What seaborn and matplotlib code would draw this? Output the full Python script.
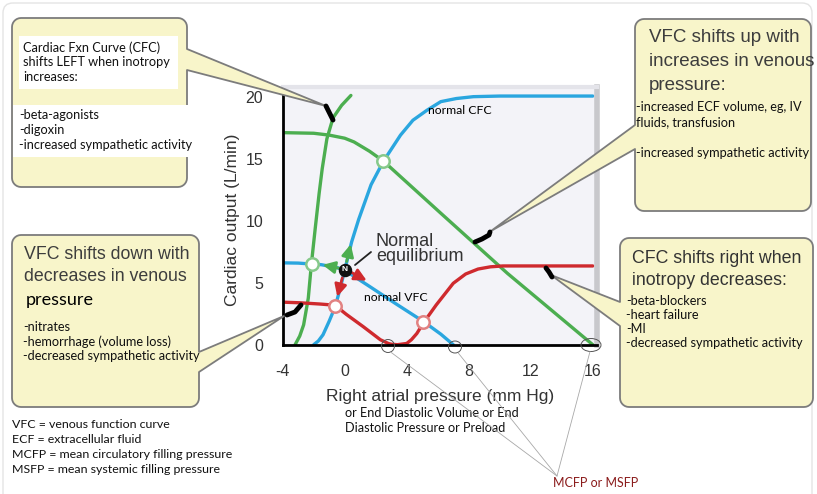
import numpy as np
import matplotlib
matplotlib.use('Agg')
import matplotlib.pyplot as plt
from matplotlib.patches import Polygon, Rectangle, Ellipse, FancyBboxPatch
import seaborn as sns

# Curves (x = right atrial pressure, y = cardiac output)
cfc_normal_x = [-2.0, -1.7, -1.4, -1.0, -0.6, -0.2, 0.0, 0.45, 0.9, 1.7, 2.5, 3.6, 4.4, 5.3, 6.2, 7.2, 8.3, 10.0, 16.0]
cfc_normal_y = [0.0, 0.3, 0.8, 1.9, 3.1, 5.0, 6.0, 8.3, 10.1, 12.9, 14.8, 16.9, 18.1, 18.9, 19.6, 19.85, 20.0, 20.05, 20.05]

vfc_normal_x = [-4.0, -3.0, -2.1, -1.5, -0.95, -0.45, 0.0, 1.6, 3.3, 5.1, 6.2, 7.0]
vfc_normal_y = [6.6, 6.58, 6.5, 6.45, 6.32, 6.2, 6.0, 4.7, 3.3, 1.85, 0.85, 0.0]

vfc_up_x = [-4.0, -2.0, -1.0, 0.0, 0.6, 1.6, 2.5, 6.2, 10.5, 16.0]
vfc_up_y = [17.1, 17.05, 16.9, 16.65, 16.35, 15.6, 14.8, 10.6, 5.75, 0.0]

cfc_left_x = [-3.2, -2.9, -2.65, -2.35, -2.15, -1.9, -1.65, -1.45, -1.15, -0.75, -0.2, 0.4]
cfc_left_y = [0.0, 0.7, 1.6, 3.75, 6.5, 9.4, 12.2, 14.2, 16.6, 18.3, 19.3, 20.1]

vfc_down_x = [-4.0, -2.9, -1.6, -1.0, -0.65, -0.3, 0.1, 1.2, 2.3, 2.9]
vfc_down_y = [3.43, 3.38, 3.28, 3.22, 3.15, 2.85, 2.45, 1.45, 0.4, 0.05]

cfc_right_x = [2.9, 3.4, 4.0, 4.3, 4.65, 5.1, 5.9, 7.0, 7.8, 8.6, 9.4, 10.2, 16.0]
cfc_right_y = [0.05, 0.0, 0.1, 0.4, 0.9, 1.8, 3.2, 4.95, 5.7, 6.1, 6.28, 6.35, 6.35]

# equilibrium points
green_pts_x = [-2.13, 2.49]
green_pts_y = [6.5, 14.8]
red_pts_x = [-0.63, 5.07]
red_pts_y = [3.15, 1.81]
normal_x, normal_y = 0.02, 6.05

x_ticks = [-4, 0, 4, 8, 12, 16]
y_ticks = [0, 5, 10, 15, 20]

BLUE = '#2aa6df'
GREEN = '#4cae50'
RED = '#cf2a2e'
BOX = '#f8f5ca'
TITLE = '#3d3d3d'

sns.set_style('white')
plt.rcParams['font.family'] = ['Liberation Sans', 'DejaVu Sans']
plt.rcParams['axes.unicode_minus'] = False

W, H = 817, 494
fig = plt.figure(figsize=(W / 100, H / 100), dpi=100)
ax = fig.add_axes([282.7 / W, 1 - 344.7 / H, 314.7 / W, 257.7 / H])
ax.set_facecolor('#f3f3f8')

# curves
for xs, ys, c in [(cfc_normal_x, cfc_normal_y, BLUE), (vfc_normal_x, vfc_normal_y, BLUE),
                  (vfc_up_x, vfc_up_y, GREEN), (cfc_left_x, cfc_left_y, GREEN),
                  (vfc_down_x, vfc_down_y, RED), (cfc_right_x, cfc_right_y, RED)]:
    sns.lineplot(x=xs, y=ys, ax=ax, color=c, lw=2.4, sort=False, estimator=None)

sns.scatterplot(x=green_pts_x, y=green_pts_y, ax=ax, s=80, color='white',
                edgecolor='#86c98a', linewidth=1.8, zorder=6)
sns.scatterplot(x=red_pts_x, y=red_pts_y, ax=ax, s=80, color='white',
                edgecolor='#e28282', linewidth=1.8, zorder=6)

# arrows leaving the normal equilibrium
arrows = [((-0.3, 6.15), (-1.42, 6.44), GREEN), ((0.12, 6.7), (0.39, 8.1), GREEN),
          ((-0.15, 5.4), (-0.48, 3.87), RED), ((0.4, 5.85), (1.42, 5.17), RED)]
for tail, tip, c in arrows:
    ax.annotate('', xy=tip, xytext=tail, zorder=7,
                arrowprops=dict(arrowstyle='-|>,head_length=0.6,head_width=0.3', color=c,
                                lw=2, shrinkA=0, shrinkB=0, mutation_scale=12))

ax.scatter([normal_x], [normal_y], s=75, color='#111111', zorder=8)
ax.text(normal_x, normal_y, 'N', color='white', fontsize=6, fontweight='bold',
        ha='center', va='center', zorder=9)

ax.set_xlim(-4, 16.3)
ax.set_ylim(0, 20.78)
ax.set_xticks(x_ticks)
ax.set_yticks(y_ticks)
ax.tick_params(direction='out', length=9, width=2, color='black', pad=5,
               labelsize=11.5, labelcolor='#333333')
ax.set_xlabel('Right atrial pressure (mm Hg)', fontsize=12.5, color='#333333', labelpad=7)
ax.set_ylabel('Cardiac output (L/min)', fontsize=12.5, color='#333333')
ax.yaxis.set_label_coords(-0.135, 0.484)
for s in ['left', 'bottom']:
    ax.spines[s].set_color('black')
    ax.spines[s].set_linewidth(2)
ax.spines['top'].set_color('#e4e4ea')
ax.spines['top'].set_linewidth(3)
ax.spines['right'].set_color('#c8c8cc')
ax.spines['right'].set_linewidth(4)

# overlay in pixel coordinates for callouts and notes
ov = fig.add_axes([0, 0, 1, 1], zorder=5)
ov.set_xlim(0, W)
ov.set_ylim(H, 0)
ov.axis('off')
ov.patch.set_alpha(0)

ov.add_patch(FancyBboxPatch((3, 3), 809, 600, boxstyle='round,pad=0,rounding_size=10',
                            fc='none', ec='#e4e4e4', lw=1))


def callout(x0, y0, x1, y1, side, b0, b1, tip, r=9):
    pts = []

    def arc(cx, cy, a0, a1):
        for a in np.radians(np.linspace(a0, a1, 8)):
            pts.append((cx + r * np.cos(a), cy + r * np.sin(a)))
    arc(x0 + r, y0 + r, 180, 270)
    arc(x1 - r, y0 + r, 270, 360)
    if side == 'right':
        pts.extend([(x1, b0), tip, (x1, b1)])
    arc(x1 - r, y1 - r, 0, 90)
    arc(x0 + r, y1 - r, 90, 180)
    if side == 'left':
        pts.extend([(x0, b1), tip, (x0, b0)])
    ov.add_patch(Polygon(pts, closed=True, fc=BOX, ec='#7c7c7c', lw=1.3,
                         joinstyle='round', zorder=2))


def lines(x, y0, step, rows, **kw):
    for i, t in enumerate(rows):
        if t:
            ov.text(x, y0 + i * step, t, ha='left', va='center', zorder=4, **kw)


calibri = dict(family=['Lato', 'DejaVu Sans'], fontsize=9.2, color='#111111')
arial_title = dict(fontsize=12.8, color=TITLE)

# box 1: CFC shifts left
callout(12, 18, 187, 187, 'right', 49, 70, (326, 106))
ov.add_patch(Rectangle((19, 36), 159, 53, fc='white', ec='none', zorder=3))
ov.add_patch(Rectangle((13, 105), 180, 52, fc='white', ec='none', zorder=3))
lines(23, 47.3, 15, ['Cardiac Fxn Curve (CFC)', 'shifts LEFT when inotropy', 'increases:'], **calibri)
lines(19, 115.3, 15, ['-beta-agonists', '-digoxin', '-increased sympathetic activity'], **calibri)

# box 2: VFC shifts up
callout(635, 19, 811, 211, 'left', 125, 149, (491, 231))
lines(649, 38, 23.5, ['VFC shifts up with', 'increases in venous', 'pressure:'],
      fontsize=13.5, color=TITLE)
lines(636, 106.7, 15.5, ['-increased ECF volume, eg, IV', 'fluids, transfusion', '',
                         '-increased sympathetic activity'], **calibri)

# box 3: VFC shifts down
callout(12, 235, 199, 407, 'right', 352, 372, (284, 316))
lines(24, 254.3, 22.4, ['VFC shifts down with', 'decreases in venous'], **arial_title)
ov.text(26, 300, 'pressure', family=['Lato', 'DejaVu Sans'], fontsize=13, color='black',
        ha='left', va='center', zorder=4)
lines(23.3, 327.3, 14.3, ['-nitrates', '-hemorrhage (volume loss)',
                          '-decreased sympathetic activity'], **calibri)

# box 4: CFC shifts right
callout(620, 238, 813, 407, 'left', 302, 326, (551, 275))
lines(631.7, 258.3, 21.7, ['CFC shifts right when', 'inotropy decreases:'],
      fontsize=12.8, color='#333333')
lines(626, 301, 14.1, ['-beta-blockers', '-heart failure', '-MI',
                       '-decreased sympathetic activity'], **calibri)

# hand drawn pointer marks
for sx, sy in [([326, 329, 333], [106, 112, 120]),
               ([475, 482, 489, 490], [242, 239, 235, 232]),
               ([546, 549, 552], [268, 272, 277]),
               ([287, 295, 301], [315, 312, 305])]:
    ov.plot(sx, sy, color='black', lw=3.5, solid_capstyle='round', zorder=6)

# labels inside the plot
ov.text(376, 233, 'Normal\nequilibrium', fontsize=13, color='#333333', ha='left', va='top',
        linespacing=0.88, zorder=4)
ov.plot([355, 371], [265, 252], color='#222222', lw=1.3, zorder=4)
ov.text(428, 110, 'normal CFC', family=['Lato', 'DejaVu Sans'], fontsize=8.8, color='black',
        ha='left', va='center', zorder=4)
ov.text(364, 297, 'normal VFC', family=['Lato', 'DejaVu Sans'], fontsize=8.8, color='black',
        ha='left', va='center', zorder=4)

# notes below
lines(12, 424, 15.3, ['VFC = venous function curve', 'ECF = extracellular fluid',
                      'MCFP = mean circulatory filling pressure',
                      'MSFP = mean systemic filling pressure'],
      family=['Lato', 'DejaVu Sans'], fontsize=8.9, color='#111111')
lines(345, 413, 15, ['or End Diastolic Volume or End', 'Diastolic Pressure or Preload'],
      family=['Lato', 'DejaVu Sans'], fontsize=9.1, color='#111111')
ov.text(553, 483, 'MCFP or MSFP', family=['Lato', 'DejaVu Sans'], fontsize=9, color='#8b1c1c',
        ha='left', va='center', zorder=4)

for cx, cy, w, h in [(388, 346, 13, 13), (455, 347, 13, 12), (591, 345, 20, 13)]:
    ov.add_patch(Ellipse((cx, cy), w, h, fc='none', ec='#555555', lw=0.7, zorder=4))
    ov.plot([cx + (w / 2 if cx < 500 else -2) * 0.5, 557], [cy + h / 2, 476],
            color='#a8a8a8', lw=0.6, zorder=4)

fig.savefig('out.png', dpi=100)
